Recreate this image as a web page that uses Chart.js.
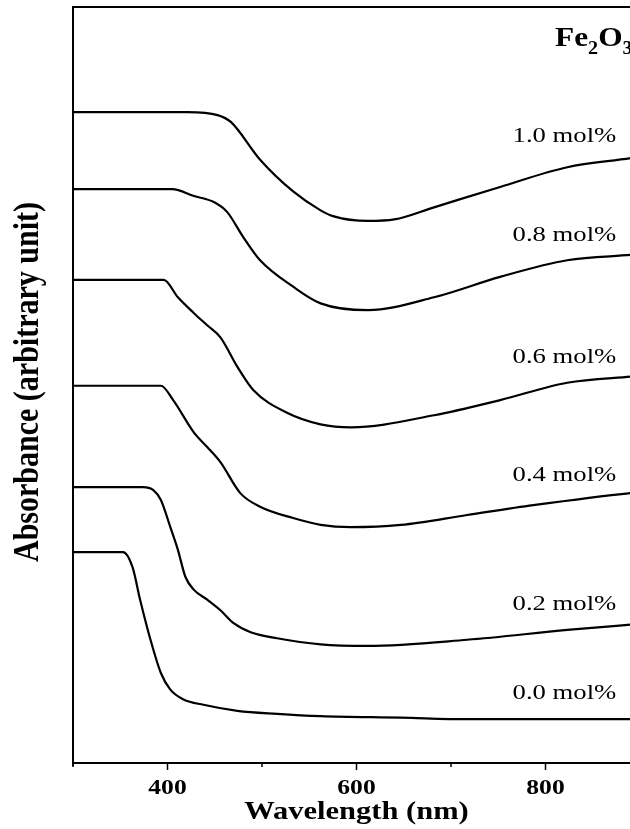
<!DOCTYPE html>
<html>
<head>
<meta charset="utf-8">
<script src="https://cdn.jsdelivr.net/npm/chart.js@4.4.1/dist/chart.umd.min.js"></script>
<style>
  html, body { margin: 0; padding: 0; background: #fff; overflow: hidden; }
  #wrap { width: 650px; height: 829px; }
</style>
</head>
<body>
<div id="wrap"><canvas id="absChart" width="650" height="829"></canvas></div>
<script>
// wavelength (nm) / absorbance (a.u., stacked)
const wl10 = [300, 421, 453, 467, 498, 533, 562, 576, 612, 640, 682, 752, 823, 890, 900];
const ab10 = [86.1, 86.1, 85.7, 84.8, 79.8, 75.6, 73.1, 72.3, 71.7, 71.9, 73.5, 76.2, 78.8, 80.0, 80.2];

const wl08 = [300, 405, 428, 449, 463, 480, 498, 533, 562, 612, 682, 752, 823, 890, 900];
const ab08 = [75.9, 75.9, 75.0, 74.2, 72.9, 69.6, 66.5, 63.0, 60.8, 59.9, 61.6, 64.3, 66.5, 67.2, 67.3];

const wl06 = [300, 396, 411, 428, 442, 456, 474, 491, 527, 562, 594, 682, 752, 823, 890, 900];
const ab06 = [63.9, 63.9, 61.6, 59.5, 57.9, 56.3, 52.4, 49.3, 46.3, 44.8, 44.4, 46.0, 48.0, 50.3, 51.1, 51.2];

const wl04 = [300, 393, 406, 428, 442, 456, 477, 498, 533, 562, 594, 647, 717, 787, 890, 900];
const ab04 = [49.9, 49.9, 48.0, 43.7, 41.8, 39.8, 35.7, 33.9, 32.4, 31.5, 31.2, 31.5, 32.8, 34.1, 35.7, 35.8];

const wl02 = [300, 374, 385, 393, 403, 411, 419, 428, 442, 456, 470, 488, 516, 562, 612, 717, 823, 890, 900];
const ab02 = [36.5, 36.5, 36.1, 34.8, 31.2, 28.2, 24.6, 22.9, 21.6, 20.2, 18.5, 17.3, 16.5, 15.7, 15.5, 16.3, 17.6, 18.3, 18.4];

const wl00 = [300, 353, 363, 371, 382, 393, 403, 417, 438, 474, 516, 562, 647, 717, 890, 900];
const ab00 = [27.9, 27.9, 25.9, 21.6, 16.3, 11.9, 9.7, 8.4, 7.7, 6.9, 6.5, 6.2, 6.0, 5.8, 5.8, 5.8];

const doseLabels = ['1.0 mol%', '0.8 mol%', '0.6 mol%', '0.4 mol%', '0.2 mol%', '0.0 mol%'];
const majorTicks = [400, 600, 800];
const minorTicks = [300, 500, 700, 900];

const seriesWl = [wl10, wl08, wl06, wl04, wl02, wl00];
const seriesAb = [ab10, ab08, ab06, ab04, ab02, ab00];

function toPoints(xs, ys) {
    return xs.map((v, i) => ({ x: v, y: ys[i] }));
}

// linear lookup of a series value at a given wavelength
function valueAt(xs, ys, w) {
    for (let i = 1; i < xs.length; i++) {
        if (w <= xs[i]) {
            const t = (w - xs[i - 1]) / (xs[i] - xs[i - 1]);
            return ys[i - 1] + t * (ys[i] - ys[i - 1]);
        }
    }
    return ys[ys.length - 1];
}

// draw text stretched horizontally like the original scan
function stretchText(ctx, text, x, y, font, align, sx) {
    ctx.save();
    ctx.translate(x, y);
    ctx.scale(sx, 1);
    ctx.font = font;
    ctx.textAlign = align;
    ctx.textBaseline = 'alphabetic';
    ctx.fillText(text, 0, 0);
    ctx.restore();
}

const SERIF = '"Liberation Serif", "Times New Roman", serif';

const decor = {
    id: 'decor',
    afterDraw(chart) {
        const ctx = chart.ctx;
        const a = chart.chartArea;
        const xs = chart.scales.x;
        const ys = chart.scales.y;
        ctx.save();
        ctx.strokeStyle = '#000';
        ctx.fillStyle = '#000';

        // top frame line
        ctx.lineWidth = 2;
        ctx.beginPath();
        ctx.moveTo(a.left - 1, a.top);
        ctx.lineTo(a.right, a.top);
        ctx.stroke();

        // left axis pokes a little below the x axis
        ctx.beginPath();
        ctx.moveTo(a.left, a.bottom);
        ctx.lineTo(a.left, a.bottom + 3);
        ctx.stroke();

        // tick marks
        ctx.lineWidth = 1.5;
        majorTicks.forEach(v => {
            const px = xs.getPixelForValue(v);
            ctx.beginPath();
            ctx.moveTo(px, a.bottom);
            ctx.lineTo(px, a.bottom + 7);
            ctx.stroke();
        });
        minorTicks.forEach(v => {
            const px = xs.getPixelForValue(v);
            ctx.beginPath();
            ctx.moveTo(px, a.bottom);
            ctx.lineTo(px, a.bottom + 4);
            ctx.stroke();
        });

        // tick labels
        majorTicks.forEach(v => {
            stretchText(ctx, String(v), xs.getPixelForValue(v), a.bottom + 31, 'bold 20px ' + SERIF, 'center', 1.28);
        });

        // axis titles
        stretchText(ctx, 'Wavelength (nm)', xs.getPixelForValue(600), a.bottom + 56, 'bold 25px ' + SERIF, 'center', 1.22);

        ctx.save();
        ctx.translate(29, 382);
        ctx.rotate(-Math.PI / 2);
        ctx.scale(1, 1.2);
        ctx.font = 'bold 30px ' + SERIF;
        ctx.textAlign = 'center';
        ctx.textBaseline = 'middle';
        ctx.fillText('Absorbance (arbitrary unit)', 0, 0);
        ctx.restore();

        // series labels above each curve
        const lx = xs.getPixelForValue(820);
        doseLabels.forEach((lab, i) => {
            const py = ys.getPixelForValue(valueAt(seriesWl[i], seriesAb[i], 820));
            const lift = i === 0 ? 26 : 20;
            stretchText(ctx, lab, lx, py - lift, '21px ' + SERIF, 'center', 1.27);
        });

        // Fe2O3 tag in the corner
        let fx = 555;
        const fy = 46;
        const big = 'bold 28px ' + SERIF;
        const small = 'bold 18px ' + SERIF;
        ctx.font = big;
        stretchText(ctx, 'Fe', fx, fy, big, 'left', 1.12);
        fx += ctx.measureText('Fe').width * 1.12;
        ctx.font = small;
        stretchText(ctx, '2', fx, fy + 8, small, 'left', 1.12);
        fx += ctx.measureText('2').width * 1.12;
        ctx.font = big;
        stretchText(ctx, 'O', fx, fy, big, 'left', 1.12);
        fx += ctx.measureText('O').width * 1.12;
        stretchText(ctx, '3', fx, fy + 8, small, 'left', 1.12);

        ctx.restore();
    }
};

new Chart(document.getElementById('absChart'), {
    type: 'line',
    data: {
        datasets: doseLabels.map((lab, i) => ({
            label: lab,
            data: toPoints(seriesWl[i], seriesAb[i]),
            borderColor: '#000',
            borderWidth: 2.2,
            pointRadius: 0,
            fill: false,
            cubicInterpolationMode: 'monotone'
        }))
    },
    options: {
        responsive: false,
        animation: false,
        devicePixelRatio: 1,
        layout: {
            padding: { left: 73, right: 10, top: 7, bottom: 66 }
        },
        plugins: {
            legend: { display: false },
            tooltip: { enabled: false }
        },
        scales: {
            x: {
                type: 'linear',
                min: 300,
                max: 900,
                ticks: { display: false },
                grid: { display: false, drawTicks: false },
                border: { display: true, color: '#000', width: 2 }
            },
            y: {
                min: 0,
                max: 100,
                ticks: { display: false },
                grid: { display: false, drawTicks: false },
                border: { display: true, color: '#000', width: 2 }
            }
        }
    },
    plugins: [decor]
});
</script>
</body>
</html>
